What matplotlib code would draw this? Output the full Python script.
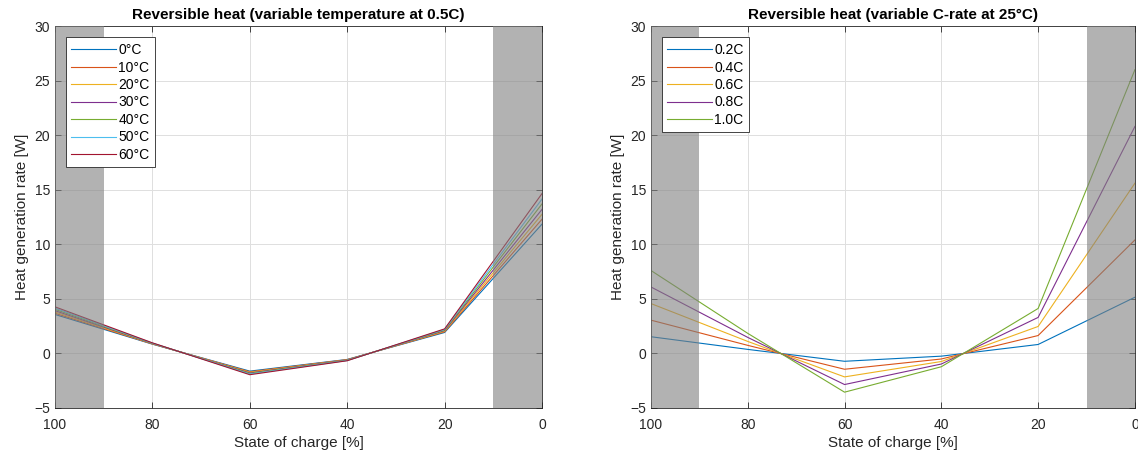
import matplotlib.pyplot as plt

plt.rcParams['font.family'] = ['Liberation Sans', 'DejaVu Sans']

# State of charge sample points [%]
soc = [100, 80, 60, 40, 20, 0]

# Reversible heat at 0.5C for several ambient temperatures [W]
temp_labels = ['0°C', '10°C', '20°C', '30°C', '40°C', '50°C', '60°C']
heat_t0 = [3.57, 0.85, -1.62, -0.55, 1.92, 11.85]
heat_t10 = [3.68, 0.87, -1.68, -0.57, 1.98, 12.30]
heat_t20 = [3.80, 0.89, -1.73, -0.59, 2.04, 12.75]
heat_t30 = [3.92, 0.91, -1.79, -0.61, 2.10, 13.20]
heat_t40 = [4.04, 0.93, -1.84, -0.63, 2.15, 13.70]
heat_t50 = [4.15, 0.95, -1.89, -0.65, 2.20, 14.15]
heat_t60 = [4.27, 0.97, -1.95, -0.67, 2.25, 14.65]

# Reversible heat at 25°C for several C-rates [W]
crate_labels = ['0.2C', '0.4C', '0.6C', '0.8C', '1.0C']
heat_c02 = [1.53, 0.37, -0.72, -0.25, 0.82, 5.15]
heat_c04 = [3.05, 0.74, -1.45, -0.51, 1.64, 10.40]
heat_c06 = [4.57, 1.10, -2.15, -0.74, 2.47, 15.60]
heat_c08 = [6.09, 1.47, -2.85, -0.97, 3.30, 20.80]
heat_c10 = [7.60, 1.84, -3.55, -1.22, 4.12, 26.00]

# SOC windows excluded from operation
excluded = [(90, 100), (0, 10)]

colors = ['#0072BD', '#D95319', '#EDB120', '#7E2F8E', '#77AC30', '#4DBEEE', '#A2142F']
axis_col = '#262626'

fig = plt.figure(figsize=(11.38, 4.63), dpi=100)
ax1 = fig.add_axes([0.0483, 0.1188, 0.428, 0.825])
ax2 = fig.add_axes([0.572, 0.1188, 0.4253, 0.825])


def style_axes(ax, title):
    ax.set_xlim(100, 0)
    ax.set_ylim(-5, 30)
    ax.set_xticks([100, 80, 60, 40, 20, 0])
    ax.set_yticks(range(-5, 31, 5))
    ax.grid(True, color='#dfdfdf', linewidth=0.7)
    ax.set_axisbelow(True)
    ax.tick_params(direction='in', top=True, right=True, labelsize=10,
                   colors=axis_col, length=4, width=0.6)
    ax.tick_params(axis='x', pad=7)
    for sp in ax.spines.values():
        sp.set_color(axis_col)
        sp.set_linewidth(0.6)
    for lo, hi in excluded:
        ax.axvspan(lo, hi, color=(0.5, 0.5, 0.5), alpha=0.6, lw=0, zorder=3)
    ax.set_xlabel('State of charge [%]', fontsize=11, color=axis_col, labelpad=3)
    ax.set_ylabel('Heat generation rate [W]', fontsize=11, color=axis_col)
    ax.set_title(title, fontsize=11, fontweight='bold', color='black', pad=5)


temp_series = [heat_t0, heat_t10, heat_t20, heat_t30, heat_t40, heat_t50, heat_t60]
for i, (lbl, vals) in enumerate(zip(temp_labels, temp_series)):
    ax1.plot(soc, vals, color=colors[i], linewidth=0.8, label=lbl, zorder=2)
style_axes(ax1, 'Reversible heat (variable temperature at 0.5C)')

crate_series = [heat_c02, heat_c04, heat_c06, heat_c08, heat_c10]
for i, (lbl, vals) in enumerate(zip(crate_labels, crate_series)):
    ax2.plot(soc, vals, color=colors[i], linewidth=0.8, label=lbl, zorder=2)
style_axes(ax2, 'Reversible heat (variable C-rate at 25°C)')

for ax in (ax1, ax2):
    leg = ax.legend(loc='upper left', bbox_to_anchor=(0.022, 0.97), fontsize=10,
                    handlelength=3.2, labelspacing=0.25, handletextpad=0.2,
                    borderpad=0.4, borderaxespad=0, fancybox=False, framealpha=1,
                    edgecolor=axis_col)
    leg.get_frame().set_linewidth(0.6)
    leg.set_zorder(5)

fig.savefig('out.png', dpi=100)
